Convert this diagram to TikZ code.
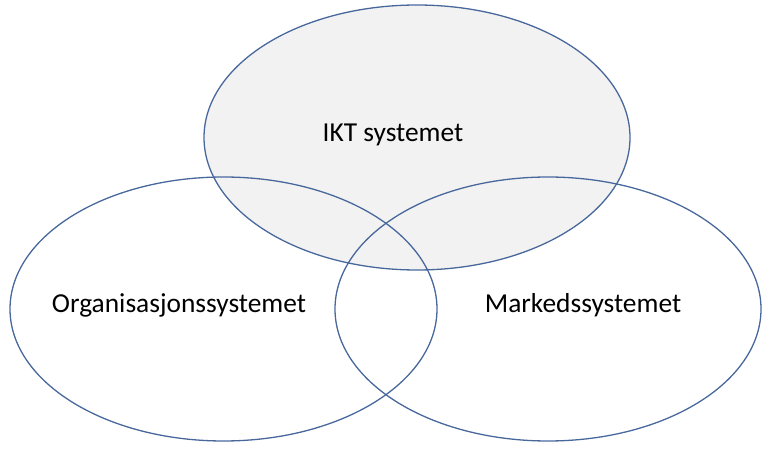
\documentclass[tikz,border=0pt]{standalone}
\usepackage{fontspec}
\setmainfont{Carlito}
\definecolor{edge}{RGB}{72,104,156}
\definecolor{topfill}{RGB}{242,242,242}
\begin{document}
\begin{tikzpicture}[x=1bp,y=-1bp,
  ring/.style={draw=edge,line width=1.3bp},
  lbl/.style={font=\fontsize{27.5}{33}\selectfont,text=black,inner sep=0pt}]
\useasboundingbox (0,0) rectangle (768,453);
\fill[topfill] (417,137.5) ellipse [x radius=213,y radius=132.5];
\draw[ring] (417,137.5) ellipse [x radius=213,y radius=132.5];
\draw[ring] (223.5,309) ellipse [x radius=213.5,y radius=132];
\draw[ring] (548,309) ellipse [x radius=213,y radius=132];
\node[lbl] (ikt) at (393,135) {IKT systemet};
\node[lbl] (org) at (179,305) {Organisasjonssystemet};
\node[lbl] (mark) at (583,305) {Markedssystemet};
\end{tikzpicture}
\end{document}
